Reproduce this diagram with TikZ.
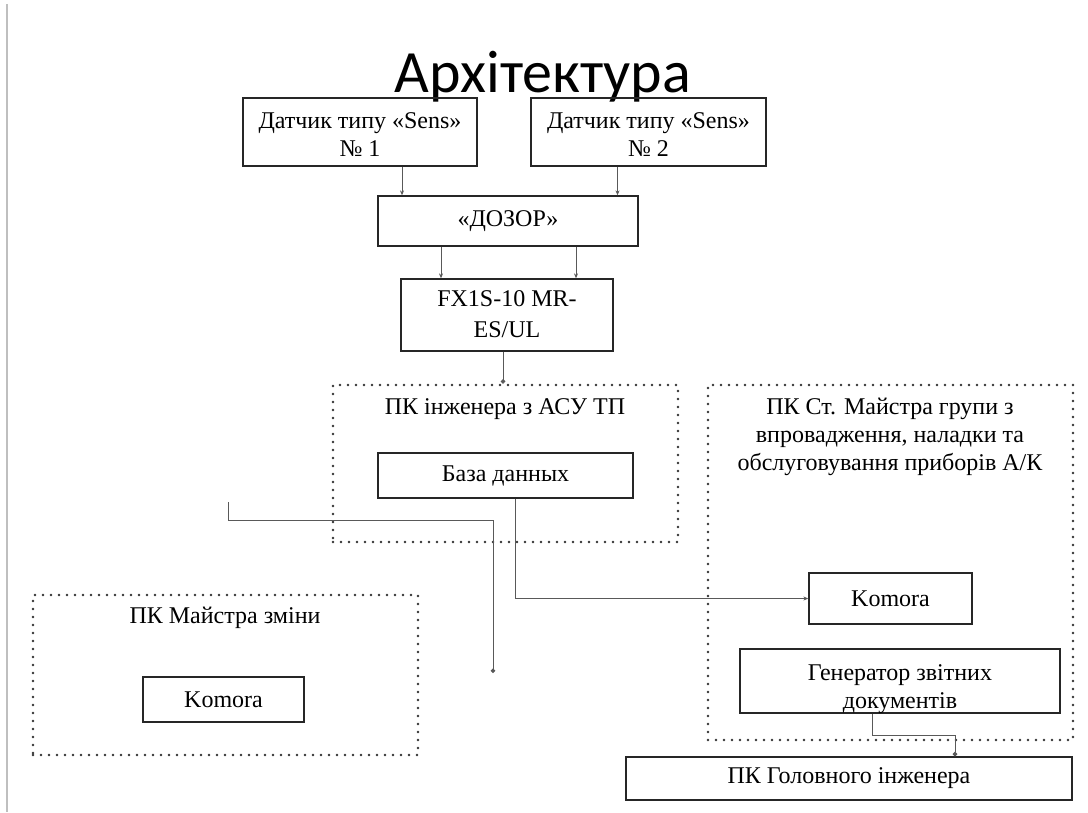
\documentclass[tikz,border=0pt]{standalone}
\usepackage{fontspec}
\setmainfont{Liberation Serif}
\newfontfamily\titlefont{Carlito}
\usetikzlibrary{arrows.meta,calc}

\begin{document}
\begin{tikzpicture}[x=1pt,y=-1pt,
  box/.style={draw=black!85, line width=1.3pt, inner sep=0pt, align=center,
    font=\fontsize{24}{28}\selectfont},
  group/.style={draw=black!80, line width=2.6pt, dash pattern=on 0pt off 8pt,
    line cap=round, inner sep=0pt},
  txt/.style={align=center, font=\fontsize{24}{28}\selectfont, inner sep=0pt, anchor=base},
  wire/.style={draw=black!65, line width=1pt},
  tip/.style={-{Stealth[length=5pt,width=4pt]}},
  dot/.style={-{Circle[length=4.5pt]}}]

\useasboundingbox (0,0) rectangle (1088,812);
\fill[white] (0,0) rectangle (1088,812);
\draw[black!25, line width=1.5pt] (7,4) -- (7,812);

% title
\node[anchor=base, inner sep=0pt, font=\titlefont\fontsize{60}{66}\selectfont] (title) at (543,92) {Архітектура};

% sensors and controllers (multi-line texts are anchored at their last baseline)
\node[box, minimum width=234, minimum height=68] (s1) at (360,132) {};
\node[txt] (s1t) at (360,156) {Датчик типу «Sens»\\№ 1};
\node[box, minimum width=235, minimum height=68] (s2) at (648.5,132) {};
\node[txt] (s2t) at (648.5,156) {Датчик типу «Sens»\\№ 2};
\node[box, minimum width=260, minimum height=50] (dozor) at (508,221) {«ДОЗОР»};
\node[box, minimum width=212, minimum height=72] (fx) at (507,315) {};
\node[txt] (fxt) at (507,337) {FX1S-10 MR-\\[3pt]ES/UL};

% workstation groups
\node[group, minimum width=345, minimum height=157] (eng) at (505.5,463.5) {};
\node[txt] (engt) at (505,414) {ПК інженера з АСУ ТП};
\node[box, minimum width=255, minimum height=45] (db) at (505.5,475.5) {База данных};

\node[group, minimum width=365, minimum height=355] (sen) at (890.5,562.5) {};
\node[txt] (sent) at (890,470) {ПК Ст. Майстра групи з\\впровадження, наладки та\\обслуговування приборів А/К};
\node[box, minimum width=163, minimum height=51] (kom2) at (890.5,598.5) {Komora};
\node[box, minimum width=320, minimum height=64] (gen) at (900,681) {};
\node[txt] (gent) at (900,708) {Генератор звітних\\документів};

\node[group, minimum width=385, minimum height=160] (shift) at (225.5,675) {};
\node[txt] (shiftt) at (225,623) {ПК Майстра зміни};
\node[box, minimum width=161, minimum height=45] (kom1) at (223.5,699.5) {Komora};

\node[box, minimum width=446, minimum height=43] (head) at (849,778.5) {ПК Головного інженера};

% connectors
\draw[wire,tip] ([xshift=42]s1.south) -- ([xshift=42]s1.south |- dozor.north);
\draw[wire,tip] ([xshift=-31]s2.south) -- ([xshift=-31]s2.south |- dozor.north);
\draw[wire,tip] ([xshift=-66]fx.north |- dozor.south) -- ([xshift=-66]fx.north);
\draw[wire,tip] ([xshift=69]fx.north |- dozor.south) -- ([xshift=69]fx.north);
\draw[wire,dot] ([xshift=-4]fx.south) -- ([xshift=-4]fx.south |- eng.north);

\coordinate (lstart) at (228,502);
\coordinate (lend) at (493,673);
\draw[wire,dot] (lstart) -- (228,520) -| (lend);

\draw[wire,tip] ([xshift=10]db.south) |- (kom2.west);
\draw[wire,dot] ([xshift=-28]gen.south) -- ++(0,22) -| ([xshift=106]head.north);
\end{tikzpicture}
\end{document}
